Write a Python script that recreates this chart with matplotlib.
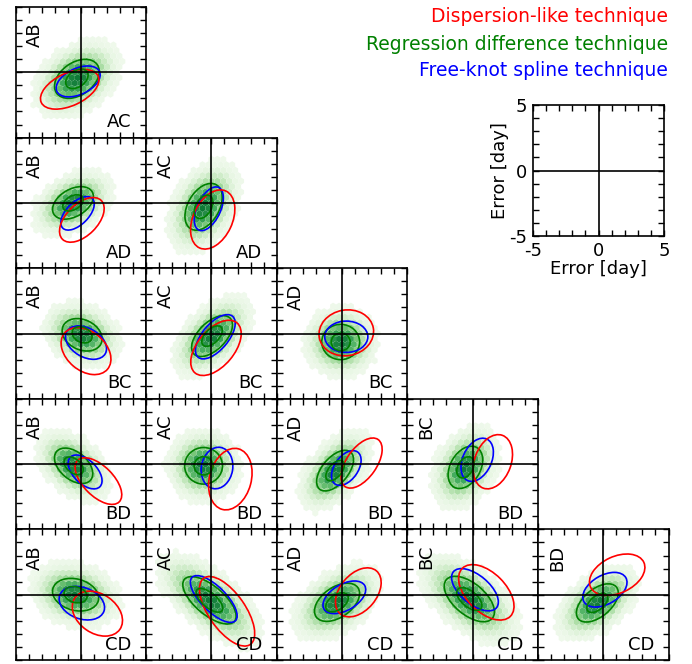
import numpy as np
import matplotlib
matplotlib.use("Agg")
import matplotlib.pyplot as plt
from matplotlib.patches import Ellipse

plt.rcParams['axes.unicode_minus'] = False
plt.rcParams['font.family'] = 'DejaVu Sans'

# Lens image pairs
pairs = ['AB', 'AC', 'AD', 'BC', 'BD', 'CD']

# 68% error contours per panel, row by row
# (cx, cy, major, minor, angle) in days / degrees
regr_ell = [
    (-0.3, -0.5, 3.8, 2.5, 35),
    (-0.6, 0.0, 3.4, 2.1, 30),
    (-0.6, -0.3, 3.9, 2.4, 60),
    (0.1, -0.1, 3.2, 2.3, -25),
    (0.05, -0.2, 3.9, 2.1, 45),
    (-0.1, -0.65, 2.9, 2.7, 0),
    (-0.55, -0.13, 3.4, 2.1, -40),
    (-0.6, -0.13, 2.9, 2.8, 0),
    (-0.53, -0.5, 3.7, 2.0, 50),
    (-0.55, -0.25, 3.5, 2.3, 60),
    (-0.4, 0.0, 3.6, 2.4, -15),
    (-0.15, -0.43, 5.0, 2.2, -40),
    (-0.38, -0.58, 3.9, 2.3, 35),
    (-0.25, -0.33, 4.6, 2.4, -40),
    (-0.45, -0.63, 3.8, 2.1, 40),
]
spline_ell = [
    (-0.2, -0.7, 3.6, 2.0, 25),
    (-0.25, -0.8, 3.2, 1.7, 45),
    (-0.2, -0.45, 3.6, 1.8, 65),
    (0.4, -0.7, 3.4, 2.2, -30),
    (0.3, -0.25, 4.1, 2.0, 50),
    (0.33, -0.25, 3.3, 2.4, 0),
    (0.33, -0.6, 3.2, 1.8, -45),
    (0.43, -0.3, 3.2, 2.4, 80),
    (0.33, -0.3, 3.0, 1.8, 55),
    (0.35, 0.33, 3.5, 2.2, 65),
    (0.08, -0.65, 3.6, 2.4, -20),
    (0.18, -0.33, 4.7, 1.9, -45),
    (0.18, -0.2, 3.6, 2.0, 30),
    (0.18, 0.38, 4.3, 2.2, -40),
    (0.13, 0.38, 3.7, 2.2, 30),
]
disp_ell = [
    (-0.85, -1.3, 4.8, 2.5, 25),
    (0.08, -1.3, 4.2, 2.4, 45),
    (0.1, -1.27, 4.8, 3.0, 65),
    (0.4, -1.35, 4.3, 3.0, -40),
    (0.35, -1.1, 5.0, 2.8, 50),
    (0.33, 0.05, 4.2, 3.5, 10),
    (1.35, -1.3, 4.5, 2.3, -45),
    (1.45, -1.15, 4.8, 3.2, 75),
    (1.5, 0.08, 4.4, 2.3, 55),
    (1.55, 0.18, 4.3, 2.8, 70),
    (1.27, -1.45, 4.2, 3.0, -35),
    (1.2, -1.27, 6.2, 2.8, -55),
    (1.25, 0.18, 4.3, 2.8, 50),
    (1.05, 0.18, 5.2, 3.0, -45),
    (1.07, 1.53, 4.5, 2.8, 25),
]

W, H = 692, 664
fig = plt.figure(figsize=(W / 100, H / 100), dpi=100)

step = 130.6
x0, y0 = 15.5, 7.0

gx, gy = np.meshgrid(np.linspace(-5, 5, 121), np.linspace(-5, 5, 121))
gx, gy = gx.ravel(), gy.ravel()


def style_axes(ax):
    ax.set_xlim(-5, 5)
    ax.set_ylim(-5, 5)
    ax.set_xticks(range(-5, 6))
    ax.set_yticks(range(-5, 6))
    ax.tick_params(direction='in', length=4, width=1, top=True, right=True,
                   labelbottom=False, labelleft=False)
    for s in ax.spines.values():
        s.set_linewidth(1.2)
    ax.axhline(0, color='k', lw=1.2, zorder=5)
    ax.axvline(0, color='k', lw=1.2, zorder=5)


k = 0
for i in range(5):
    for j in range(i + 1):
        left = (x0 + j * step) / W
        bottom = 1 - (y0 + (i + 1) * step) / H
        ax = fig.add_axes([left, bottom, step / W, step / H])
        style_axes(ax)

        # green sample density (hexbin) around the regression contour
        cx, cy, a, b, ang = regr_ell[k]
        t = np.deg2rad(ang)
        u = (gx - cx) * np.cos(t) + (gy - cy) * np.sin(t)
        v = -(gx - cx) * np.sin(t) + (gy - cy) * np.cos(t)
        d2 = (u / (a / 2)) ** 2 + (v / (b / 2)) ** 2
        w = np.exp(-0.7 * d2)
        m = w > 0.07
        ax.hexbin(gx[m], gy[m], C=w[m], gridsize=22, extent=(-5, 5, -5, 5),
                  cmap='Greens', vmin=0, vmax=1.2, linewidths=0, zorder=1)

        for ell, col in [(regr_ell[k], 'g'), (spline_ell[k], 'b'), (disp_ell[k], 'r')]:
            ecx, ecy, ea, eb, eang = ell
            ax.add_patch(Ellipse((ecx, ecy), ea, eb, angle=eang, fill=False,
                                 ec=col, lw=1.2, zorder=4))
        ax.add_patch(Ellipse((cx, cy), a * 0.5, b * 0.5, angle=ang, fill=False,
                             ec='g', lw=1.2, zorder=4))

        ax.text(0.08, 0.88, pairs[j], rotation=90, ha='left', va='top',
                fontsize=13, transform=ax.transAxes, zorder=6)
        ax.text(0.89, 0.08, pairs[i + 1], ha='right', va='baseline',
                fontsize=13, transform=ax.transAxes, zorder=6)
        k += 1

# key panel
kax = fig.add_axes([533 / W, 1 - 236 / H, 131 / W, 131 / H])
style_axes(kax)
kax.tick_params(labelbottom=True, labelleft=True, labelsize=13, pad=4)
lab = ['-5', '', '', '', '', '0', '', '', '', '', '5']
kax.set_xticklabels(lab)
kax.set_yticklabels(lab)
kax.set_xlabel('Error [day]', fontsize=13, labelpad=0)
kax.set_ylabel('Error [day]', fontsize=13, labelpad=0)

# legend text
fig.text(668 / W, 1 - 17 / H, 'Dispersion-like technique', color='r',
         ha='right', va='center', fontsize=13.5)
fig.text(668 / W, 1 - 44 / H, 'Regression difference technique', color='g',
         ha='right', va='center', fontsize=13.5)
fig.text(668 / W, 1 - 71 / H, 'Free-knot spline technique', color='b',
         ha='right', va='center', fontsize=13.5)

fig.savefig('out.png', dpi=100)
